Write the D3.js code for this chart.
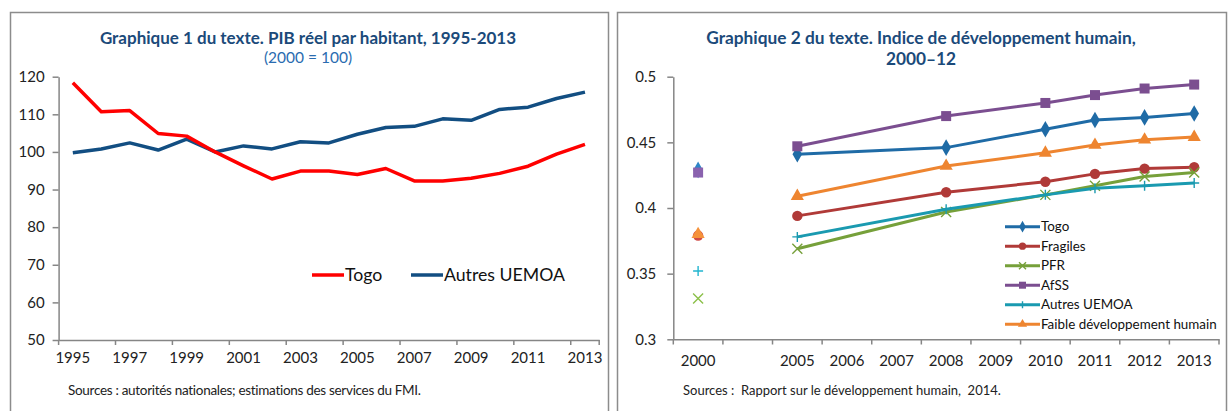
<!DOCTYPE html>
<html>
<head>
<meta charset="utf-8">
<script src="https://cdn.jsdelivr.net/npm/d3@7"></script>
<style>
  body { margin: 0; background: #fff; }
  svg { display: block; font-family: Lato, "Open Sans", sans-serif; }
</style>
</head>
<body>
<svg width="1228" height="411"></svg>
<script>
// --- chart 1 : PIB reel par habitant (2000 = 100)
const yearsPIB = ["1995","1996","1997","1998","1999","2000","2001","2002","2003","2004",
                  "2005","2006","2007","2008","2009","2010","2011","2012","2013"];
const togoPIB   = [118.4, 110.7, 111.0, 104.9, 104.2, 100.0, 96.3, 92.8, 94.9, 94.9,
                   94.0, 95.6, 92.3, 92.3, 93.0, 94.3, 96.2, 99.4, 102.0];
const autresPIB = [99.8, 100.8, 102.4, 100.5, 103.4, 100.0, 101.6, 100.8, 102.7, 102.4,
                   104.7, 106.5, 106.8, 108.8, 108.4, 111.3, 111.9, 114.2, 115.9];
const yTicksPIB = [50, 60, 70, 80, 90, 100, 110, 120];

// --- chart 2 : Indice de developpement humain
const catsIDH  = ["2000", "", "2005", "2006", "2007", "2008", "2009", "2010", "2011", "2012", "2013"];
const yearsIDH = ["2000", "2005", "2008", "2010", "2011", "2012", "2013"];
const togoIDH     = [0.429, 0.441, 0.446, 0.460, 0.467, 0.469, 0.472];
const fragilesIDH = [0.379, 0.394, 0.412, 0.420, 0.426, 0.430, 0.431];
const pfrIDH      = [0.331, 0.369, 0.397, 0.410, 0.417, 0.424, 0.427];
const afssIDH     = [0.427, 0.447, 0.470, 0.480, 0.486, 0.491, 0.494];
const autresIDH   = [0.352, 0.378, 0.399, 0.410, 0.415, 0.417, 0.419];
const faibleIDH   = [0.380, 0.409, 0.432, 0.442, 0.448, 0.452, 0.454];
const yTicksIDH = [0.3, 0.35, 0.4, 0.45, 0.5];

var svg = d3.select("svg");
var axisGrey = "#868686";
var titleBlue = "#1b4a7a";

// panel frames
svg.append("path")
    .attr("d", "M10.5,420V12.5H608.5V420")
    .attr("fill", "none").attr("stroke", "#8c8c8c").attr("stroke-width", 1.5);
svg.append("path")
    .attr("d", "M617.5,420V12.5H1226.5V420")
    .attr("fill", "none").attr("stroke", "#8c8c8c").attr("stroke-width", 1.5);

function styleAxis(g) {
    g.select(".domain").attr("stroke", axisGrey).attr("stroke-width", 1.5);
    g.selectAll(".tick line").attr("stroke", axisGrey).attr("stroke-width", 1.5);
    g.selectAll(".tick text").attr("fill", "#222").attr("font-size", 15)
        .attr("font-family", "Lato, sans-serif");
}

// ================= chart 1 =================
var x1 = d3.scaleBand().domain(yearsPIB).range([58.6, 599.2]);
var y1 = d3.scaleLinear().domain([50, 120]).range([340, 76.7]);
var g1 = svg.append("g");

g1.append("text").attr("x", 308).attr("y", 44).attr("text-anchor", "middle")
    .attr("font-size", 17).attr("font-weight", "bold").attr("fill", titleBlue)
    .text("Graphique 1 du texte. PIB réel par habitant, 1995-2013");
g1.append("text").attr("x", 308).attr("y", 63).attr("text-anchor", "middle")
    .attr("font-size", 15.5).attr("fill", "#2a6cb0")
    .text("(2000 = 100)");

g1.append("g").attr("transform", "translate(58.6,0)")
    .call(d3.axisLeft(y1).tickValues(yTicksPIB).tickSize(6).tickSizeOuter(0).tickPadding(8))
    .call(styleAxis);

var evenYears = yearsPIB.filter((d, i) => i % 2 === 0);
g1.append("g").attr("transform", "translate(0,340)")
    .call(d3.axisBottom(x1).tickValues(evenYears).tickSize(0).tickPadding(12))
    .call(styleAxis);
// category boundary ticks every 2 years
var tickX1 = evenYears.map(d => x1(d)).concat([x1.range()[1]]);
g1.selectAll("line.xt").data(tickX1).enter().append("line")
    .attr("x1", d => d).attr("x2", d => d).attr("y1", 340).attr("y2", 345)
    .attr("stroke", axisGrey).attr("stroke-width", 1.5);

var line1 = d3.line()
    .x((d, i) => x1(yearsPIB[i]) + x1.bandwidth() / 2)
    .y(d => y1(d));

g1.append("path").datum(autresPIB).attr("d", line1)
    .attr("fill", "none").attr("stroke", "#124e82").attr("stroke-width", 3.5)
    .attr("stroke-linejoin", "round");
g1.append("path").datum(togoPIB).attr("d", line1)
    .attr("fill", "none").attr("stroke", "#ff0000").attr("stroke-width", 3.5)
    .attr("stroke-linejoin", "round");

// legend
var leg1 = [{name: "Togo", color: "#ff0000", x: 312}, {name: "Autres UEMOA", color: "#124e82", x: 411}];
leg1.forEach(function(d) {
    g1.append("line").attr("x1", d.x).attr("x2", d.x + 32).attr("y1", 275).attr("y2", 275)
        .attr("stroke", d.color).attr("stroke-width", 3.5);
    g1.append("text").attr("x", d.x + 33).attr("y", 281)
        .attr("font-size", 17.7).attr("fill", "#111").text(d.name);
});

g1.append("text").attr("x", 68).attr("y", 395).attr("font-size", 13.5)
    .attr("fill", "#222").attr("letter-spacing", -0.3)
    .text("Sources : autorités nationales; estimations des services du FMI.");

// ================= chart 2 =================
var x2 = d3.scaleBand().domain(catsIDH).range([673.3, 1219]);
var y2 = d3.scaleLinear().domain([0.3, 0.5]).range([339.3, 76.7]);
var g2 = svg.append("g");

g2.append("text").attr("x", 921).attr("y", 44).attr("text-anchor", "middle")
    .attr("font-size", 17.3).attr("font-weight", "bold").attr("fill", titleBlue)
    .text("Graphique 2 du texte. Indice de développement humain,");
g2.append("text").attr("x", 921).attr("y", 65).attr("text-anchor", "middle")
    .attr("font-size", 17.3).attr("font-weight", "bold").attr("fill", titleBlue)
    .text("2000–12");

g2.append("g").attr("transform", "translate(673.3,0)")
    .call(d3.axisLeft(y2).tickValues(yTicksIDH).tickFormat(d3.format("")).tickSize(6).tickSizeOuter(0).tickPadding(11))
    .call(styleAxis);

g2.append("g").attr("transform", "translate(0,339.3)")
    .call(d3.axisBottom(x2).tickSize(0).tickPadding(16))
    .call(styleAxis);
var tickX2 = catsIDH.map(d => x2(d)).concat([x2.range()[1]]);
g2.selectAll("line.xt").data(tickX2).enter().append("line")
    .attr("x1", d => d).attr("x2", d => d).attr("y1", 339.3).attr("y2", 344.5)
    .attr("stroke", axisGrey).attr("stroke-width", 1.5);

var series2 = [
    {name: "Togo", values: togoIDH, line: "#1f6ba6", light: "#2e86c8", shape: "diamond"},
    {name: "Fragiles", values: fragilesIDH, line: "#b03a38", light: "#cf4a45", shape: "circle"},
    {name: "PFR", values: pfrIDH, line: "#76a03a", light: "#8cc04a", shape: "x"},
    {name: "AfSS", values: afssIDH, line: "#7b4e90", light: "#8a62ae", shape: "square"},
    {name: "Autres UEMOA", values: autresIDH, line: "#1a9ab0", light: "#22b5cf", shape: "plus"},
    {name: "Faible développement humain", values: faibleIDH, line: "#ee8530", light: "#f5923a", shape: "triangle"}
];

var cx2 = d => x2(d) + x2.bandwidth() / 2;

function marker(g, shape, x, y, color, s) {
    var types = {diamond: d3.symbolDiamond, circle: d3.symbolCircle,
                 square: d3.symbolSquare, triangle: d3.symbolTriangle};
    if (types[shape]) {
        var area = {diamond: 80, circle: 85, square: 100, triangle: 75}[shape] * s * s;
        g.append("path").attr("transform", "translate(" + x + "," + y + ")")
            .attr("d", d3.symbol().type(types[shape]).size(area)())
            .attr("fill", color);
    } else {
        var r = 5 * s;
        var p = shape === "x"
            ? "M" + (-r) + "," + (-r) + "L" + r + "," + r + "M" + (-r) + "," + r + "L" + r + "," + (-r)
            : "M" + (-r) + ",0H" + r + "M0," + (-r) + "V" + r;
        g.append("path").attr("transform", "translate(" + x + "," + y + ")")
            .attr("d", p).attr("fill", "none").attr("stroke", color).attr("stroke-width", 1.4);
    }
}

var line2 = d3.line().x(d => cx2(d.year)).y(d => y2(d.v));

series2.forEach(function(s) {
    var pts = s.values.map((v, i) => ({year: yearsIDH[i], v: v}));
    // 2000 stands alone, lines start in 2005
    marker(g2, s.shape, cx2(pts[0].year), y2(pts[0].v), s.light, 1);
    var rest = pts.slice(1);
    g2.append("path").datum(rest).attr("d", line2)
        .attr("fill", "none").attr("stroke", s.line).attr("stroke-width", 3)
        .attr("stroke-linejoin", "round");
    rest.forEach(function(d) {
        marker(g2, s.shape, cx2(d.year), y2(d.v), s.line, 1);
    });
});

// legend
series2.forEach(function(s, i) {
    var ly = 226.7 + i * 19.5;
    g2.append("line").attr("x1", 1005).attr("x2", 1040).attr("y1", ly).attr("y2", ly)
        .attr("stroke", s.line).attr("stroke-width", 3);
    marker(g2, s.shape, 1022.5, ly, s.line, 0.7);
    g2.append("text").attr("x", 1041).attr("y", ly + 4.5)
        .attr("font-size", 13.4).attr("fill", "#111").text(s.name);
});

g2.append("text").attr("x", 683).attr("y", 395).attr("font-size", 13)
    .attr("fill", "#222").attr("xml:space", "preserve")
    .text("Sources :  Rapport sur le développement humain,  2014.");
</script>
</body>
</html>
